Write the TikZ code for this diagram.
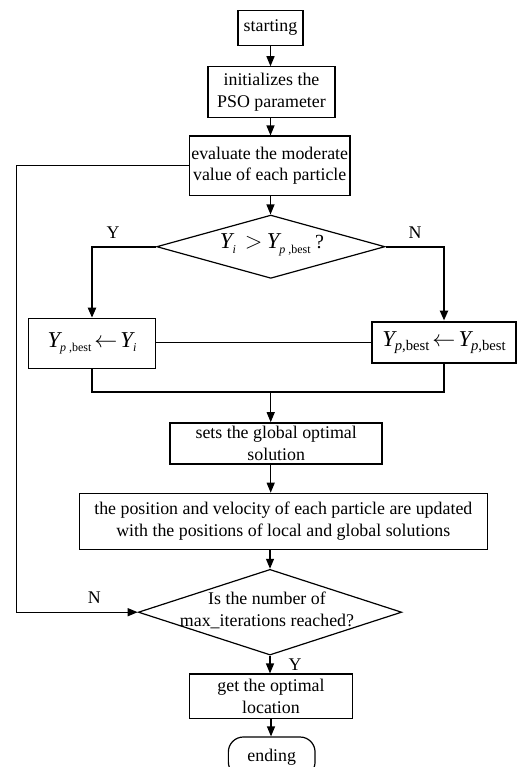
\documentclass[tikz,border=0pt]{standalone}
\usepackage{fontspec}
\setmainfont{Liberation Serif}
\usetikzlibrary{shapes.geometric,arrows.meta}
\newcommand\bigY{{\fontsize{17}{17}\selectfont\itshape Y}}
\newcommand\subsc[2]{\raisebox{-0.55ex}{\fontsize{#1}{#1}\selectfont #2}}
\begin{document}
\begin{tikzpicture}[x=0.75pt,y=-0.75pt,
  font=\fontsize{13.4}{16.3}\selectfont,
  box/.style={draw, line width=0.9pt, inner sep=0pt, align=center},
  thickbox/.style={box, line width=1.7pt},
  dia/.style={draw, diamond, line width=0.9pt, inner sep=0pt},
  conn/.style={line width=0.9pt},
  arr/.style={conn, -{Triangle[length=7.5pt,width=6pt]}},
  thickarr/.style={line width=1.6pt, -{Triangle[length=7.5pt,width=6pt]}},
  lbl/.style={inner sep=0pt}]
\useasboundingbox (0,0) rectangle (523,767);

\node[box, minimum width=65*0.75pt, minimum height=34.6*0.75pt] (start) at (270.5,28) {starting};
\node[box, minimum width=127*0.75pt, minimum height=50.3*0.75pt] (init) at (271.5,92) {initializes the\\PSO parameter};
\node[box, minimum width=160.7*0.75pt, minimum height=59.3*0.75pt] (eval) at (269.7,165.7) {evaluate the moderate\\value of each particle};
\node[dia, minimum width=228.3*0.75pt, minimum height=63.3*0.75pt] (dec1) at (270.8,246.7) {};
\node[lbl] (dec1t) at (272,245) {\bigY\subsc{9}{\itshape i}\ \ {\fontsize{17}{17}\selectfont$>$}\ \bigY\subsc{9}{\itshape p\upshape\ ,best}\ {\fontsize{15}{15}\selectfont ?}};
\node[box, minimum width=127.4*0.75pt, minimum height=50*0.75pt] (L) at (92,343.3) {\bigY\subsc{9}{\itshape p\upshape\ ,best}\,{\fontsize{17}{17}\selectfont$\leftarrow$}\,\bigY\subsc{9}{\itshape i}};
\node[thickbox, minimum width=143.4*0.75pt, minimum height=41.6*0.75pt] (R) at (444,342.5) {\bigY\subsc{11}{\itshape p\upshape,best}\,{\fontsize{17}{17}\selectfont$\leftarrow$}\,\bigY\subsc{11}{\itshape p\upshape,best}};
\node[thickbox, minimum width=212.3*0.75pt, minimum height=40.7*0.75pt] (S) at (276.2,443.7) {sets the global optimal\\solution};
\node[box, minimum width=408*0.75pt, minimum height=56*0.75pt] (U) at (283.3,521.3) {the position and velocity of each particle are updated\\with the positions of local and global solutions};
\node[dia, minimum width=263.4*0.75pt, minimum height=85.7*0.75pt] (dec2) at (270,612.2) {};
\node[lbl, align=center] (dec2t) at (267,610.5) {Is the number of\\max\_iterations reached?};
\node[box, minimum width=163.4*0.75pt, minimum height=44.3*0.75pt] (G) at (271,696.2) {get the optimal\\location};
\node[draw, line width=0.9pt, rounded corners=15*0.75pt, minimum width=86.7*0.75pt, minimum height=40*0.75pt, inner sep=0pt] (E) at (271.7,757) {ending};

\node[lbl] (y1) at (113,233) {Y};
\node[lbl] (n1) at (415,233) {N};
\node[lbl] (n2) at (94.3,597.3) {N};
\node[lbl] (y2) at (295,665) {Y};

\coordinate (loopx) at (16.7,0);
\coordinate (merge) at (270.7,391.7);

\draw[arr] (start.south) -- (start.south |- init.north);
\draw[arr] (init.south -| start.south) -- (start.south |- eval.north);
\draw[arr] (eval.south -| start.south) -- (start.south |- dec1.north);
\draw[thickarr] (dec1.west) -| (L.north);
\draw[thickarr] (dec1.east) -| (R.north);
\draw[line width=1.4pt] (L.east |- R.west) -- (R.west);
\draw[line width=1.3pt] (L.south) |- (merge) -| (R.south);
\draw[arr] (merge) -- (merge |- S.north);
\draw[arr] (S.south -| merge) -- (merge |- U.north);
\draw[arr] (U.south -| dec2.north) -- (dec2.north);
\draw[arr] (dec2.south) -- (dec2.south |- G.north);
\draw[arr] (G.south) -- (G.south |- E.north);
\draw[arr] (eval.west) -- (eval.west -| loopx) |- (dec2.west);
\end{tikzpicture}
\end{document}
